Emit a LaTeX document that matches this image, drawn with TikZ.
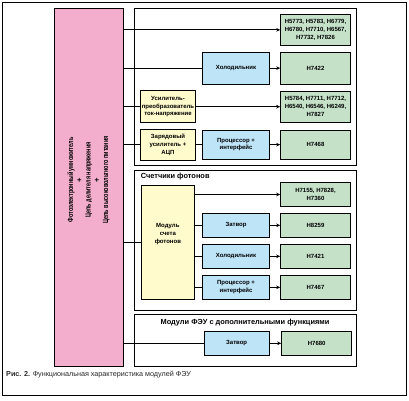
\documentclass[tikz,border=0pt]{standalone}
\usepackage{fontspec}
\setmainfont{Liberation Sans}
\usetikzlibrary{arrows.meta}
\definecolor{pinkfill}{RGB}{243,174,206}
\definecolor{greenfill}{RGB}{197,226,201}
\definecolor{bluefill}{RGB}{190,228,248}
\definecolor{yellowfill}{RGB}{255,251,204}
\newcommand{\pinkline}[1]{\scalebox{0.72}[1]{#1}}
\tikzset{
  frame/.style={draw=black, line width=1pt},
  boxbase/.style={draw=black, line width=1pt, inner sep=1pt, align=center,
    font=\bfseries\fontsize{6}{7.8}\selectfont},
  greenbox/.style={boxbase, fill=greenfill, minimum width=69.6pt},
  bluebox/.style={boxbase, fill=bluefill, minimum width=66.6pt},
  yellowbox/.style={boxbase, fill=yellowfill, minimum width=54.6pt},
  conn/.style={draw=black, line width=0.8pt},
  arr/.style={conn, -{Stealth[length=4pt,width=3.6pt]}},
  sectitle/.style={font=\bfseries\fontsize{7.4}{8.5}\selectfont, inner sep=0pt}
}
\begin{document}
\begin{tikzpicture}[x=1pt,y=-1pt]
\useasboundingbox (0,0) rectangle (409,400);
% outer frame
\draw[frame] (2.7,2.7) rectangle (406.5,395);
% pink block
\node[draw=black, line width=1pt, fill=pinkfill, minimum width=69pt, minimum height=357.7pt, inner sep=0pt] (pink) at (88.5,187.15) {};
\node[rotate=90, align=center, font=\bfseries\fontsize{7.6}{8.75}\selectfont] (pinktext) at (88.5,180)
  {\pinkline{Фотоэлектронный умножитель}\\+\\\pinkline{Цепь делителя напряжения}\\+\\\pinkline{Цепь высоковольтного питания}};
% sections
\draw[frame] (134,8.3) rectangle (356.7,165.7);
\draw[frame] (134,170.3) rectangle (356.7,310.3);
\draw[frame] (134,314.3) rectangle (356.7,366);
\node[sectitle, anchor=west] (t2) at (140.7,176.9) {Счетчики фотонов};
\node[sectitle] (t3) at (245,322.6) {Модули ФЭУ с дополнительными функциями};
% section 1
\node[greenbox, minimum height=30.3pt] (g1) at (315.5,29.85) {H5773, H5783, H6779,\\H6780, H7710, H6567,\\H7732, H7826};
\node[bluebox, minimum height=31.7pt] (b2) at (236,68.15) {Холодильник};
\node[greenbox, minimum height=31.7pt] (g2) at (315.5,68.15) {H7422};
\node[yellowbox, minimum height=32.3pt] (y3) at (168,106.7) {Усилитель-\\преобразователь\\ток-напряжение};
\node[greenbox, minimum height=31.3pt] (g3) at (315.5,106.7) {H5784, H7711, H7712,\\H6540, H6546, H6249,\\H7827};
\node[yellowbox, minimum height=30.7pt] (y4) at (168,144.65) {Зарядовый\\усилитель +\\АЦП};
\node[bluebox, minimum height=29.3pt] (b4) at (236,144.65) {Процессор +\\интерфейс};
\node[greenbox, minimum height=29.3pt] (g4) at (315.5,144.65) {H7468};
% section 2
\node[yellowbox, minimum width=53.7pt, minimum height=114pt] (yb) at (167.85,242.3) {};
\node[align=center, inner sep=0pt, font=\bfseries\fontsize{6}{7.8}\selectfont] (ybtext) at (167.85,234) {Модуль\\счета\\фотонов};
\node[greenbox, minimum height=23.6pt] (g5) at (315.5,194.5) {H7155, H7828,\\H7360};
\node[bluebox, minimum height=24pt] (b6) at (236,225.3) {Затвор};
\node[greenbox, minimum height=24pt] (g6) at (315.5,225.3) {H8259};
\node[bluebox, minimum height=24pt] (b7) at (236,256.3) {Холодильник};
\node[greenbox, minimum height=24pt] (g7) at (315.5,256.3) {H7421};
\node[bluebox, minimum height=24pt] (b8) at (236,287.3) {Процессор +\\интерфейс};
\node[greenbox, minimum height=24pt] (g8) at (315.5,287.3) {H7467};
% section 3
\node[bluebox, minimum width=65.3pt, minimum height=24pt] (b9) at (236.65,343.3) {Затвор};
\node[greenbox, minimum width=70pt, minimum height=24pt] (g9) at (316.7,343.3) {H7680};
% connectors
\draw[arr] (pink.east |- g1.west) -- (g1.west);
\draw[conn] (pink.east |- b2.west) -- (b2.west);
\draw[arr] (b2.east) -- (g2.west);
\draw[conn] (pink.east |- y3.west) -- (y3.west);
\draw[arr] (y3.east) -- (g3.west);
\draw[conn] (pink.east |- y4.west) -- (y4.west);
\draw[conn] (y4.east) -- (b4.west);
\draw[arr] (b4.east) -- (g4.west);
\draw[conn] (pink.east |- yb.west) -- (yb.west);
\draw[arr] (yb.east |- g5.west) -- (g5.west);
\draw[conn] (yb.east |- b6.west) -- (b6.west);
\draw[arr] (b6.east) -- (g6.west);
\draw[conn] (yb.east |- b7.west) -- (b7.west);
\draw[arr] (b7.east) -- (g7.west);
\draw[conn] (yb.east |- b8.west) -- (b8.west);
\draw[arr] (b8.east) -- (g8.west);
\draw[conn] (pink.east |- b9.west) -- (b9.west);
\draw[arr] (b9.east) -- (g9.west);
% caption
\node[anchor=west, inner sep=0pt, font=\fontsize{7.2}{8.5}\selectfont, text=black!85] (cap) at (6,374.5) {\textbf{Рис. 2.} Функциональная характеристика модулей ФЭУ};
\end{tikzpicture}
\end{document}
